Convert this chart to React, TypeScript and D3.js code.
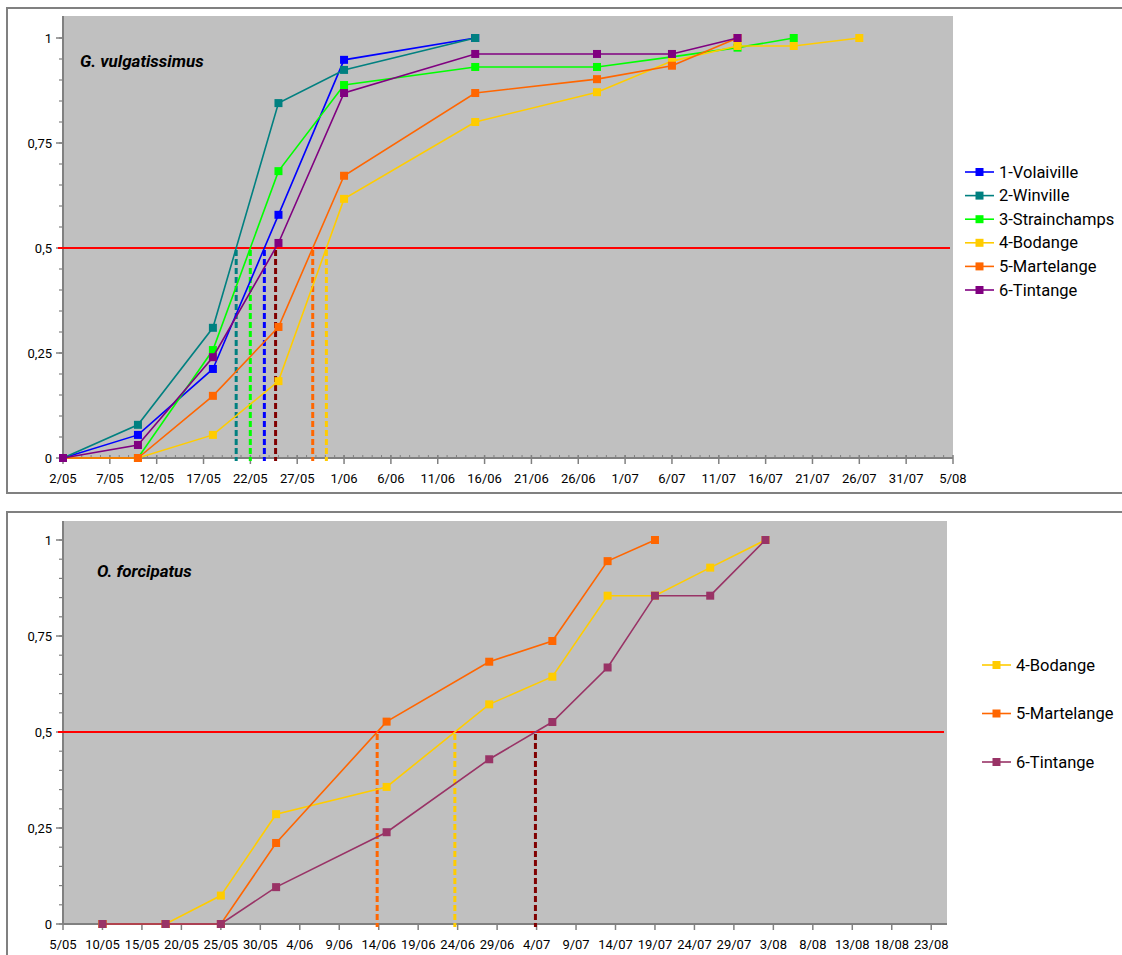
import * as d3 from 'd3';
import React, { useRef, useEffect } from 'react';

// year used to turn "d/mm" strings into dates
const YEAR = 2006;

// ---- top chart: G. vulgatissimus ----
const topDates = ["2/05", "10/05", "18/05", "25/05", "1/06", "15/06", "28/06", "6/07", "13/07", "19/07", "26/07"];
const topNames = ["1-Volaiville", "2-Winville", "3-Strainchamps", "4-Bodange", "5-Martelange", "6-Tintange"];
const volaiville = [0, 0.055, 0.212, 0.579, 0.948, 1];
const winville = [0, 0.079, 0.31, 0.845, 0.924, 1];
const strainchamps = [0, 0, 0.257, 0.683, 0.888, 0.931, 0.931, 0.955, 0.977, 1];
const bodangeG = [0, 0, 0.055, 0.183, 0.617, 0.8, 0.871, 0.945, 0.981, 0.981, 1];
const martelangeG = [0, 0, 0.148, 0.312, 0.672, 0.869, 0.902, 0.934, 1];
const tintangeG = [0, 0.031, 0.24, 0.512, 0.869, 0.962, 0.962, 0.962, 1];
const topTicks = ["2/05", "7/05", "12/05", "17/05", "22/05", "27/05", "1/06", "6/06", "11/06", "16/06", "21/06",
    "26/06", "1/07", "6/07", "11/07", "16/07", "21/07", "26/07", "31/07", "5/08"];

// ---- bottom chart: O. forcipatus ----
const bottomDates = ["10/05", "18/05", "25/05", "1/06", "15/06", "28/06", "6/07", "13/07", "19/07", "26/07", "2/08"];
const bottomNames = ["4-Bodange", "5-Martelange", "6-Tintange"];
const bodangeO = [0, 0, 0.074, 0.286, 0.357, 0.572, 0.644, 0.855, 0.855, 0.928, 1];
const martelangeO = [0, 0, 0, 0.211, 0.527, 0.683, 0.737, 0.945, 1];
const tintangeO = [0, 0, 0, 0.096, 0.239, 0.429, 0.526, 0.668, 0.855, 0.855, 1];
const bottomTicks = ["5/05", "10/05", "15/05", "20/05", "25/05", "30/05", "4/06", "9/06", "14/06", "19/06", "24/06",
    "29/06", "4/07", "9/07", "14/07", "19/07", "24/07", "29/07", "3/08", "8/08", "13/08", "18/08", "23/08"];
const bottomEnd = "25/08";

const yTicks = [0, 0.25, 0.5, 0.75, 1];
const threshold = 0.5;

const parse = (s: string) => d3.utcParse("%d/%m/%Y")(`${s}/${YEAR}`) as Date;
const fmtY = (v: number) => String(v).replace(".", ",");
const FONT = "Roboto, 'Noto Sans', sans-serif";

function drawPanel(svg: any, cfg: any) {
    const { frame, plot, y1, dates, names, values, colors, dashColors, tickLabels, domainEnd,
        minorDaily, title, legend } = cfg;

    // outer frame
    svg.append("rect")
        .attr("x", frame.x).attr("y", frame.y)
        .attr("width", frame.w).attr("height", frame.h)
        .attr("fill", "#fff").attr("stroke", "#808080").attr("stroke-width", 2);

    const x = d3.scaleUtc()
        .domain([parse(tickLabels[0]), parse(domainEnd)])
        .range([plot.left, plot.right]);
    const y = d3.scaleLinear().domain([0, 1]).range([plot.bottom, y1]);

    // grey plot area
    svg.append("rect")
        .attr("x", plot.left).attr("y", plot.top)
        .attr("width", plot.right - plot.left).attr("height", plot.bottom - plot.top)
        .attr("fill", "#c0c0c0");

    const axis = svg.append("g").attr("stroke", "#808080");

    // y axis with minor ticks every 0.05
    axis.append("line").attr("x1", plot.left).attr("x2", plot.left)
        .attr("y1", plot.top).attr("y2", plot.bottom).attr("stroke-width", 2);
    axis.selectAll(".ymin").data(d3.range(0, 21))
        .enter().append("line")
        .attr("x1", plot.left - 4).attr("x2", plot.left)
        .attr("y1", (d) => y(d * 0.05)).attr("y2", (d) => y(d * 0.05))
        .attr("stroke-width", 1.2);
    axis.selectAll(".ymaj").data(yTicks)
        .enter().append("line")
        .attr("x1", plot.left - 7).attr("x2", plot.left)
        .attr("y1", (d) => y(d)).attr("y2", (d) => y(d))
        .attr("stroke-width", 1.5);
    svg.append("g").selectAll("text").data(yTicks)
        .enter().append("text")
        .attr("x", plot.left - 11).attr("y", (d) => y(d) + 4.5)
        .attr("text-anchor", "end")
        .style("font", `13px ${FONT}`).attr("fill", "#000")
        .text(fmtY);

    // x axis
    axis.append("line").attr("x1", plot.left).attr("x2", plot.right)
        .attr("y1", plot.bottom).attr("y2", plot.bottom).attr("stroke-width", 2);
    if (minorDaily) {
        axis.selectAll(".xmin").data(d3.utcDay.range(x.domain()[0], x.domain()[1]))
            .enter().append("line")
            .attr("x1", (d) => x(d)).attr("x2", (d) => x(d))
            .attr("y1", plot.bottom - 3).attr("y2", plot.bottom)
            .attr("stroke-width", 1);
    }
    const tickDates = tickLabels.map(parse);
    axis.selectAll(".xmaj").data(tickDates)
        .enter().append("line")
        .attr("x1", (d) => x(d)).attr("x2", (d) => x(d))
        .attr("y1", plot.bottom - (minorDaily ? 3 : 0)).attr("y2", plot.bottom + 6)
        .attr("stroke-width", 1.5);
    svg.append("g").selectAll("text").data(tickLabels)
        .enter().append("text")
        .attr("x", (d) => x(parse(d))).attr("y", plot.bottom + 25)
        .attr("text-anchor", "middle")
        .style("font", `13px ${FONT}`).attr("fill", "#000")
        .text((d) => d);

    // red threshold line
    svg.append("line")
        .attr("x1", plot.left - 5).attr("x2", plot.right - 3)
        .attr("y1", y(threshold)).attr("y2", y(threshold))
        .attr("stroke", "#ff0000").attr("stroke-width", 2);

    const parsedDates = dates.map(parse);

    // dashed drops where each series crosses 0.5
    values.forEach((vals: number[], si: number) => {
        for (let i = 1; i < vals.length; i++) {
            if (vals[i - 1] < threshold && vals[i] >= threshold) {
                const t = (threshold - vals[i - 1]) / (vals[i] - vals[i - 1]);
                const a = +parsedDates[i - 1], b = +parsedDates[i];
                const xc = x(new Date(a + t * (b - a)));
                svg.append("line")
                    .attr("x1", xc).attr("x2", xc)
                    .attr("y1", y(threshold) + 2).attr("y2", plot.bottom + 3)
                    .attr("stroke", dashColors[si]).attr("stroke-width", 3)
                    .attr("stroke-dasharray", "6,3");
                break;
            }
        }
    });

    // series lines and square markers
    values.forEach((vals: number[], si: number) => {
        const pts = vals.map((v, i) => [parsedDates[i], v] as [Date, number]);
        const line = d3.line<[Date, number]>().x((d) => x(d[0])).y((d) => y(d[1]));
        const g = svg.append("g");
        g.append("path").attr("d", line(pts))
            .attr("fill", "none").attr("stroke", colors[si]).attr("stroke-width", 1.6);
        g.selectAll("rect").data(pts)
            .enter().append("rect")
            .attr("x", (d) => x(d[0]) - 4).attr("y", (d) => y(d[1]) - 4)
            .attr("width", 8).attr("height", 8)
            .attr("fill", colors[si]);
    });

    // species name
    svg.append("text")
        .attr("x", title.x).attr("y", title.y)
        .style("font", `italic bold 17px ${FONT}`).attr("fill", "#000")
        .text(title.text);

    // legend
    const lg = svg.append("g");
    names.forEach((n: string, i: number) => {
        const ly = legend.y + i * legend.step;
        lg.append("line").attr("x1", legend.x).attr("x2", legend.x + 29)
            .attr("y1", ly).attr("y2", ly)
            .attr("stroke", colors[i]).attr("stroke-width", 1.6);
        lg.append("rect").attr("x", legend.x + 10.5).attr("y", ly - 4)
            .attr("width", 8).attr("height", 8).attr("fill", colors[i]);
        lg.append("text").attr("x", legend.x + 34).attr("y", ly + 5.5)
            .style("font", `16.5px ${FONT}`).attr("fill", "#000")
            .text(n);
    });
}

const App = () => {
    const svgRef = useRef<SVGSVGElement>(null);

    useEffect(() => {
        const svg = d3.select(svgRef.current);
        svg.selectAll("*").remove();

        drawPanel(svg, {
            frame: { x: 7, y: 8, w: 1130, h: 485 },
            plot: { left: 63, right: 953, top: 16, bottom: 458 },
            y1: 38,
            dates: topDates,
            names: topNames,
            values: [volaiville, winville, strainchamps, bodangeG, martelangeG, tintangeG],
            colors: ["#0000ff", "#008080", "#00ff00", "#ffcc00", "#ff6600", "#800080"],
            dashColors: ["#0000ff", "#008080", "#00ff00", "#ffcc00", "#ff6600", "#800000"],
            tickLabels: topTicks,
            domainEnd: topTicks[topTicks.length - 1],
            minorDaily: true,
            title: { x: 80, y: 67, text: "G. vulgatissimus" },
            legend: { x: 965, y: 172, step: 23.6 },
        });

        drawPanel(svg, {
            frame: { x: 7, y: 512, w: 1130, h: 460 },
            plot: { left: 63, right: 947, top: 521, bottom: 924 },
            y1: 540,
            dates: bottomDates,
            names: bottomNames,
            values: [bodangeO, martelangeO, tintangeO],
            colors: ["#ffcc00", "#ff6600", "#993366"],
            dashColors: ["#ffcc00", "#ff6600", "#800000"],
            tickLabels: bottomTicks,
            domainEnd: bottomEnd,
            minorDaily: false,
            title: { x: 97, y: 577, text: "O. forcipatus" },
            legend: { x: 982, y: 665, step: 48.5 },
        });
    }, []);

    return (
        <svg ref={svgRef} width={1122} height={955}
            style={{ position: "absolute", left: 0, top: 0, background: "#fff" }} />
    );
};

export default App;
